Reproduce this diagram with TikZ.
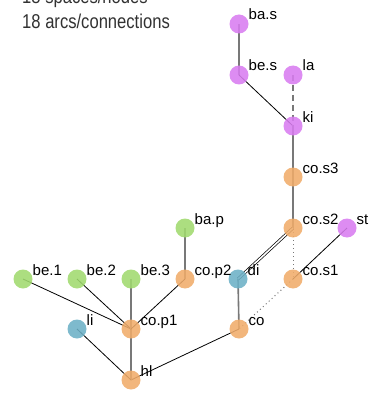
\documentclass[tikz,border=0pt]{standalone}
\usepackage{fontspec}
\setmainfont{Liberation Sans}
\newfontfamily\narrowfont[FakeStretch=0.83]{Liberation Sans}
\usepackage{tikz}
\usetikzlibrary{backgrounds}
\definecolor{spOrange}{RGB}{240,172,106}
\definecolor{spGreen}{RGB}{160,218,110}
\definecolor{spBlue}{RGB}{108,176,198}
\definecolor{spPurple}{RGB}{216,124,240}
\definecolor{arcGray}{RGB}{120,120,120}
\definecolor{headGray}{RGB}{50,50,50}

\begin{document}
\begin{tikzpicture}[
  x=1pt, y=-1pt,
  spc/.style={circle, inner sep=0pt, minimum size=19pt, fill opacity=0.88},
  lbl/.style={anchor=base west, inner sep=0pt, font=\fontsize{15}{15}\selectfont},
  heavyarc/.style={draw=arcGray, line width=1.6pt},
  thinarc/.style={draw=black, line width=0.8pt},
  dasharc/.style={draw=arcGray, line width=1.2pt, dash pattern=on 6pt off 4pt},
  dotarc/.style={draw=arcGray, line width=1pt, dash pattern=on 1pt off 3pt},
  twinarc/.style={draw=black, double=white, double distance=1.6pt, line width=0.7pt},
]
\useasboundingbox (0,0) rectangle (368,393);

%% Header
\node[anchor=base west, inner sep=0pt, text=headGray,
      font=\narrowfont\fontsize{20}{20}\selectfont] (hdA) at (22,4) {18 spaces/nodes};
\node[anchor=base west, inner sep=0pt, text=headGray,
      font=\narrowfont\fontsize{20}{20}\selectfont] (hdB) at (22,29) {18 arcs/connections};

%% Spaces
\foreach \n/\x/\y/\c/\t in {
    bas/239/24/spPurple/ba.s, bes/239/75/spPurple/be.s, la/293/75/spPurple/la,
    ki/293/126/spPurple/ki, cos3/293/177/spOrange/co.s3, cos2/293/228/spOrange/co.s2,
    st/347/228/spPurple/st, cos1/293/279/spOrange/co.s1, di/238/279/spBlue/di,
    co/239/329/spOrange/co, bap/185/228/spGreen/ba.p, cop2/185/279/spOrange/co.p2,
    be1/23/279/spGreen/be.1, be2/77/279/spGreen/be.2, be3/131/279/spGreen/be.3,
    cop1/131/329/spOrange/co.p1, li/77/329/spBlue/li, hl/131/380/spOrange/hl} {
  \node[spc, fill=\c] (\n) at (\x,\y) {};
  \node[lbl] (\n-l) at (\x+9.5,\y-4) {\t};
}

%% Arcs
\begin{scope}[on background layer]
  \draw[heavyarc] (bas.center) -- (bes.center);
  \draw[thinarc]  (bes.center) -- (ki.center);
  \draw[dasharc]  (la.center) -- (ki.center);
  \draw[heavyarc] (ki.center) -- (cos3.center);
  \draw[heavyarc] (cos3.center) -- (cos2.center);
  \draw[dotarc]   (cos2.center) -- (cos1.center);
  \draw[twinarc]  (cos2.center) -- (di.center);
  \draw[thinarc]  (st.center) -- (cos1.center);
  \draw[dotarc]   (cos1.center) -- (co.center);
  \draw[heavyarc] (di.center) -- (co.center);
  \draw[thinarc]  (co.center) -- (hl.center);
  \draw[heavyarc] (hl.center) -- (cop1.center);
  \draw[thinarc]  (li.center) -- (hl.center);
  \draw[thinarc]  (be1.center) -- (cop1.center);
  \draw[thinarc]  (be2.center) -- (cop1.center);
  \draw[heavyarc] (be3.center) -- (cop1.center);
  \draw[thinarc]  (cop1.center) -- (cop2.center);
  \draw[heavyarc] (cop2.center) -- (bap.center);
\end{scope}
\end{tikzpicture}
\end{document}
